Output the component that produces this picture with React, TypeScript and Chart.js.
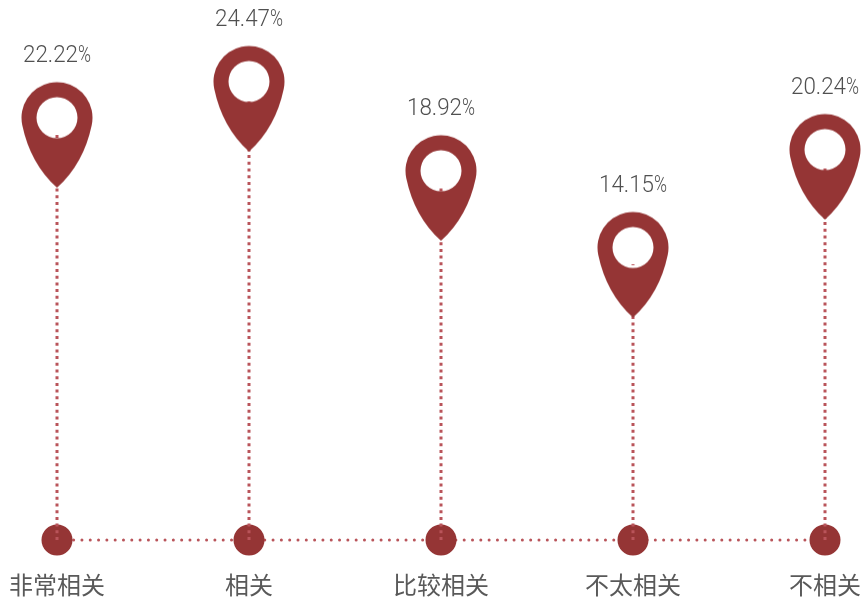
import React, { useEffect, useRef } from "react";
import { Chart, registerables } from "chart.js";

Chart.register(...registerables);

const categories = ["非常相关", "相关", "比较相关", "不太相关", "不相关"];
const values = [22.22, 24.47, 18.92, 14.15, 20.24];
const baseline = [0, 0, 0, 0, 0];
const RED = "#953535";
const DOT = "#b9545a";

function makePin(): HTMLCanvasElement {
  const c = document.createElement("canvas");
  c.width = 72;
  c.height = 220;
  const g = c.getContext("2d")!;
  const cx = 36;
  const cy = 110 - 65; // ring centre; canvas centre = value point
  const tip = 110 + 5;
  const r = 35.5;
  const a = (12 * Math.PI) / 180;
  g.fillStyle = RED;
  g.beginPath();
  g.moveTo(cx, tip);
  g.quadraticCurveTo(cx - 26.6, cy + 46, cx - r * Math.cos(a), cy + r * Math.sin(a));
  g.arc(cx, cy, r, Math.PI - a, a);
  g.quadraticCurveTo(cx + 26.6, cy + 46, cx, tip);
  g.closePath();
  g.moveTo(cx + 20.5, cy);
  g.arc(cx, cy, 20.5, 0, Math.PI * 2, true);
  g.fill("evenodd");
  return c;
}

const labelPlugin = {
  id: "pinLabels",
  afterDatasetsDraw(chart: any) {
    const { ctx, scales } = chart;
    ctx.save();
    ctx.font = '300 23px Roboto';
    ctx.fillStyle = "#505050";
    ctx.textBaseline = "middle";
    ctx.textAlign = "left";
    values.forEach((v, i) => {
      const num = v.toFixed(2);
      const numW = 55;
      const pctW = 13;
      const left = scales.x.getPixelForValue(i) - (numW + pctW) / 2;
      const y = scales.y.getPixelForValue(v) - 126;
      const sx1 = numW / ctx.measureText(num).width;
      const sx2 = pctW / ctx.measureText("%").width;
      ctx.save();
      ctx.translate(left, y);
      ctx.scale(sx1, 1);
      ctx.fillText(num, 0, 0);
      ctx.restore();
      ctx.save();
      ctx.translate(left + numW, y);
      ctx.scale(sx2, 1);
      ctx.fillText("%", 0, 0);
      ctx.restore();
    });
    ctx.restore();
  },
};

export default function App() {
  const ref = useRef<HTMLCanvasElement>(null);
  useEffect(() => {
    document.body.style.margin = "0";
    const pin = makePin();
    const stems = values.map((v, i) => ({
      type: "line" as const,
      data: [
        { x: categories[i], y: 0 },
        { x: categories[i], y: v + 3.0 },
      ],
      borderColor: DOT,
      borderWidth: 3,
      borderDash: [3, 3.7],
      pointRadius: 0,
      clip: false,
      order: 1,
    }));
    const chart = new Chart(ref.current!, {
      type: "line",
      data: {
        labels: categories,
        datasets: [
          ...stems,
          {
            data: values,
            showLine: false,
            pointStyle: pin as any,
            pointRadius: 36,
            clip: false,
            order: 0,
          },
          {
            data: baseline,
            borderColor: DOT,
            borderWidth: 3,
            borderDash: [0.01, 8.3],
            borderCapStyle: "round",
            pointRadius: 15.5,
            pointBackgroundColor: RED,
            pointBorderWidth: 0,
            clip: false,
            order: 2,
          },
        ] as any,
      },
      options: {
        animation: false,
        responsive: false,
        events: [],
        layout: { autoPadding: false },
        plugins: { legend: { display: false }, tooltip: { enabled: false } },
        scales: {
          x: {
            offset: false,
            afterFit(s: any) {
              s.paddingLeft = 57;
              s.paddingRight = 36;
              s.height = 61;
            },
            grid: { display: false, drawTicks: false },
            border: { display: false },
            ticks: {
              autoSkip: false,
              maxRotation: 0,
              padding: 30,
              color: "#595959",
              font: { family: '"Noto Sans CJK SC"', size: 24 },
            },
          },
          y: {
            display: false,
            min: 0,
            max: 33.58,
          },
        },
      },
      plugins: [labelPlugin],
    } as any);
    return () => chart.destroy();
  }, []);
  return <canvas ref={ref} width={861} height={601} style={{ display: "block" }} />;
}
